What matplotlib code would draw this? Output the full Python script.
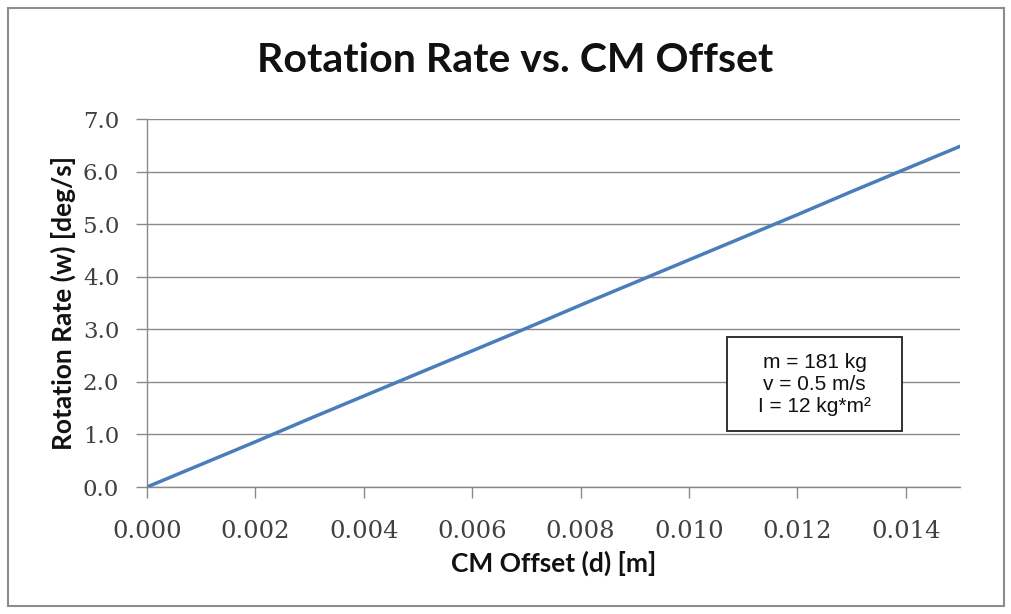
import matplotlib
matplotlib.use("Agg")
import matplotlib.pyplot as plt
from matplotlib.patches import Rectangle

# CM offset [m] and resulting rotation rate [deg/s]
offset_m = [0.000, 0.001, 0.002, 0.003, 0.004, 0.005, 0.006, 0.007,
            0.008, 0.009, 0.010, 0.011, 0.012, 0.013, 0.014, 0.015]
rate_deg_s = [0.00, 0.43, 0.86, 1.30, 1.73, 2.16, 2.59, 3.02,
              3.46, 3.89, 4.32, 4.75, 5.18, 5.62, 6.05, 6.48]

x_ticks = [0.000, 0.002, 0.004, 0.006, 0.008, 0.010, 0.012, 0.014]
y_ticks = [0.0, 1.0, 2.0, 3.0, 4.0, 5.0, 6.0, 7.0]

title = "Rotation Rate vs. CM Offset"
x_label = "CM Offset (d) [m]"
y_label = "Rotation Rate (w) [deg/s]"
params_text = "m = 181 kg\nv = 0.5 m/s\nI = 12 kg*m\u00b2"

W, H = 1011, 614
fig = plt.figure(figsize=(W / 100, H / 100), dpi=100)
fig.patch.set_facecolor("white")


def fig_box(x0, y0, x1, y1, **kw):
    """Rectangle given in pixel coordinates from the top-left corner."""
    return Rectangle((x0 / W, 1 - y1 / H), (x1 - x0) / W, (y1 - y0) / H,
                     transform=fig.transFigure, **kw)


# outer chart frame
fig.add_artist(fig_box(8, 8, 1004, 606, fill=False, edgecolor="#8c8c8c", linewidth=1.5))

left, right, bottom, top = 147, 960, 487, 119
ax = fig.add_axes([left / W, 1 - bottom / H, (right - left) / W, (bottom - top) / H])

grid_color = "#8a8a8a"
ax.plot(offset_m, rate_deg_s, color="#4a7ebb", linewidth=2.5, solid_capstyle="round", zorder=3)

ax.set_xlim(0, 0.015)
ax.set_ylim(0, 7.0)
ax.set_xticks(x_ticks)
ax.set_yticks(y_ticks)
ax.set_xticklabels([f"{v:.3f}" for v in x_ticks])
ax.set_yticklabels([f"{v:.1f}" for v in y_ticks])

ax.yaxis.grid(True, color=grid_color, linewidth=1.0)
ax.set_axisbelow(True)
for s in ("top", "right"):
    ax.spines[s].set_visible(False)
for s in ("left", "bottom"):
    ax.spines[s].set_color(grid_color)
    ax.spines[s].set_linewidth(1.0)

ax.tick_params(axis="both", direction="out", length=8, width=1.0, color=grid_color,
               labelcolor="#404040")
ax.tick_params(axis="x", pad=16, labelsize=17.5)
ax.tick_params(axis="y", pad=12, labelsize=16.5)
for lbl in ax.get_xticklabels() + ax.get_yticklabels():
    lbl.set_family("DejaVu Serif")

label_font = dict(family="Lato", weight="bold", size=19, color="#111111")
ax.set_xlabel(x_label, labelpad=5, **label_font)
ax.set_ylabel(y_label, labelpad=5, **label_font)

fig.text((258 + 772) / 2 / W, 1 - 60 / H, title, ha="center", va="center",
         family="Lato", weight="bold", size=29.5, color="#111111")

# parameter box
fig.add_artist(fig_box(727, 337, 902, 431, facecolor="white", edgecolor="#222222",
                       linewidth=1.3, zorder=5))
fig.text(814.5 / W, 1 - 384 / H, params_text, ha="center", va="center", fontsize=15,
         family="Liberation Sans", linespacing=1.2, color="#111111", zorder=6)

fig.savefig("out.png", dpi=100, facecolor="white")
